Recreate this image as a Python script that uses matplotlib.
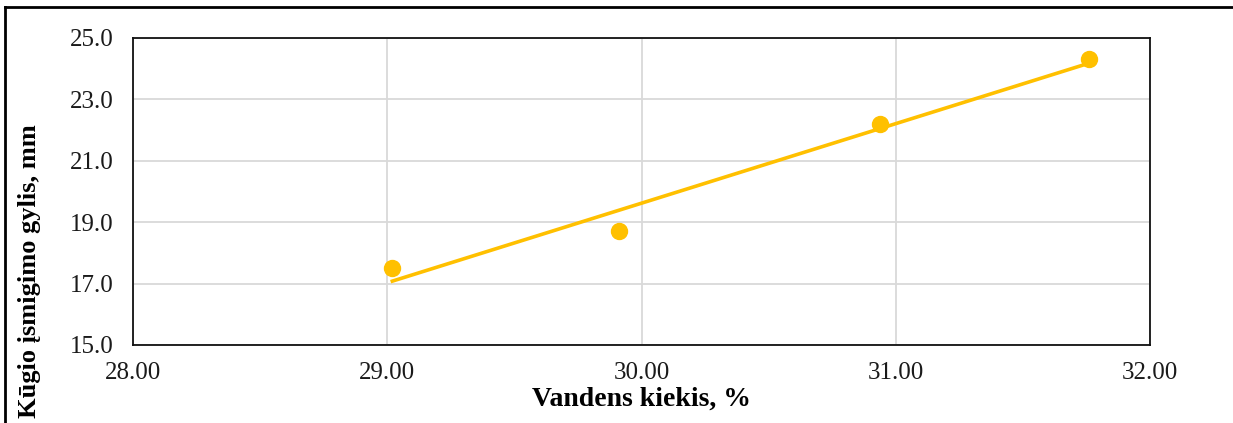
import numpy as np
import matplotlib.pyplot as plt
from matplotlib.lines import Line2D

# Data
water = [29.02, 29.91, 30.94, 31.76]
depth = [17.5, 18.7, 22.2, 24.3]

x_ticks = [28.0, 29.0, 30.0, 31.0, 32.0]
y_ticks = [15.0, 17.0, 19.0, 21.0, 23.0, 25.0]

plt.rcParams['font.family'] = ['Liberation Serif', 'DejaVu Serif']

fig = plt.figure(figsize=(12.33, 4.23), dpi=100)
ax = fig.add_axes([133 / 1233, 1 - 345 / 423, (1150 - 133) / 1233, (345 - 38) / 423])

color = '#FFC000'
ax.plot(water, depth, 'o', color=color, markersize=11.5, zorder=3)

# linear trend line
k, b = np.polyfit(water, depth, 1)
xt = np.array([min(water), max(water)])
ax.plot(xt, k * xt + b, color=color, lw=2.6, zorder=2)

ax.set_xlim(28, 32)
ax.set_ylim(15, 25)
ax.set_xticks(x_ticks)
ax.set_yticks(y_ticks)
ax.set_xticklabels([f"{v:.2f}" for v in x_ticks])
ax.set_yticklabels([f"{v:.1f}" for v in y_ticks])
ax.tick_params(length=0, labelsize=18, colors='#1a1a1a')
ax.tick_params(axis='x', pad=12)
ax.tick_params(axis='y', pad=14)
ax.grid(True, color='#D9D9D9', lw=1.3)
ax.set_axisbelow(True)
for s in ax.spines.values():
    s.set_color('#111111')
    s.set_linewidth(1.3)

ax.set_xlabel("Vandens kiekis, %", fontsize=20, fontweight='bold')
ax.xaxis.set_label_coords(0.5, -(399 - 345) / 307, transform=ax.transAxes)
ax.xaxis.label.set_va('center')
ax.set_ylabel("Kūgio įsmigimo gylis, mm", fontsize=19, fontweight='bold')
ax.yaxis.set_label_coords(-(133 - 30) / 1017, (345 - 271) / 307)
ax.yaxis.label.set_va('center')

# outer frame of the chart area
fig.add_artist(Line2D([5 / 1233, 1], [1 - 7 / 423, 1 - 7 / 423], transform=fig.transFigure, color='black', lw=2))
fig.add_artist(Line2D([5 / 1233, 5 / 1233], [0, 1 - 7 / 423], transform=fig.transFigure, color='black', lw=2))

fig.savefig("out.png", dpi=100)
